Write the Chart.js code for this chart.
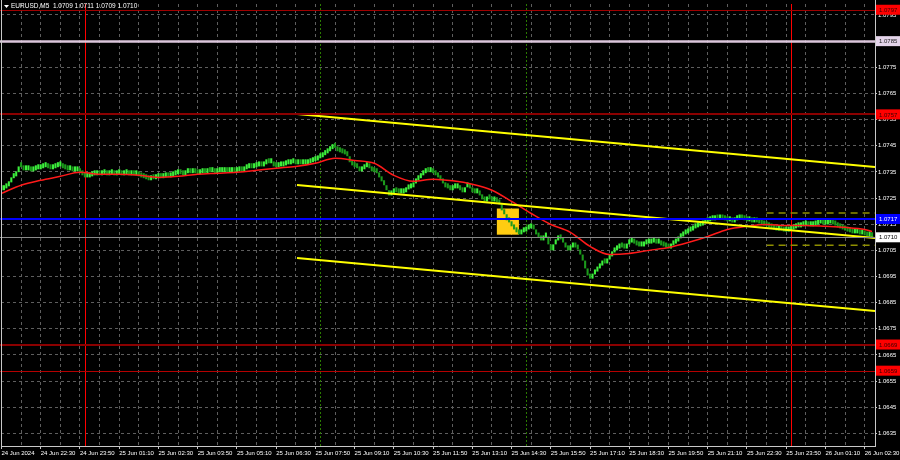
<!DOCTYPE html>
<html>
<head>
<meta charset="utf-8">
<title>EURUSD,M5</title>
<style>
  html, body { margin: 0; padding: 0; background: #000; }
  #wrap { position: relative; width: 900px; height: 460px; }
</style>
</head>
<body>
<div id="wrap"><canvas id="chart" width="900" height="460"></canvas></div>
<script src="https://cdn.jsdelivr.net/npm/chart.js@4.4.0/dist/chart.umd.min.js"></script>
<script>
// M5 closes, one per bar, from 24 Jun 21:10 to 26 Jun 02:45
const closes = [
  1.07280,1.07287,1.07295,1.07310,1.07326,1.07333,1.07349,1.07371,1.07368,1.07356,1.07356,1.07356,1.07352,1.07356,1.07360,1.07360,
  1.07364,1.07368,1.07368,1.07364,1.07360,1.07364,1.07368,1.07371,1.07371,1.07364,1.07360,1.07356,1.07356,1.07352,1.07352,1.07352,
  1.07345,1.07337,1.07329,1.07329,1.07333,1.07337,1.07337,1.07341,1.07337,1.07341,1.07341,1.07337,1.07341,1.07341,1.07337,1.07341,
  1.07341,1.07337,1.07341,1.07341,1.07337,1.07341,1.07337,1.07337,1.07333,1.07329,1.07326,1.07322,1.07318,1.07326,1.07322,1.07326,
  1.07329,1.07326,1.07329,1.07333,1.07329,1.07333,1.07337,1.07341,1.07349,1.07341,1.07337,1.07345,1.07352,1.07345,1.07349,1.07345,
  1.07341,1.07345,1.07349,1.07345,1.07352,1.07349,1.07356,1.07345,1.07349,1.07349,1.07349,1.07352,1.07349,1.07349,1.07352,1.07349,
  1.07352,1.07356,1.07352,1.07360,1.07364,1.07371,1.07364,1.07368,1.07371,1.07375,1.07371,1.07379,1.07387,1.07383,1.07383,1.07371,
  1.07368,1.07371,1.07371,1.07375,1.07379,1.07379,1.07383,1.07383,1.07379,1.07383,1.07379,1.07379,1.07379,1.07383,1.07387,1.07391,
  1.07394,1.07402,1.07406,1.07414,1.07421,1.07429,1.07437,1.07446,1.07442,1.07429,1.07425,1.07421,1.07417,1.07410,1.07387,1.07375,
  1.07368,1.07364,1.07352,1.07360,1.07368,1.07371,1.07364,1.07352,1.07349,1.07345,1.07329,1.07314,1.07299,1.07280,1.07260,1.07268,
  1.07280,1.07272,1.07268,1.07268,1.07272,1.07283,1.07287,1.07291,1.07306,1.07318,1.07326,1.07337,1.07345,1.07352,1.07349,1.07352,
  1.07345,1.07337,1.07329,1.07318,1.07306,1.07291,1.07287,1.07280,1.07287,1.07287,1.07291,1.07280,1.07272,1.07291,1.07295,1.07287,
  1.07272,1.07268,1.07268,1.07260,1.07245,1.07237,1.07249,1.07245,1.07237,1.07237,1.07234,1.07226,1.07203,1.07188,1.07165,1.07157,
  1.07142,1.07130,1.07119,1.07111,1.07119,1.07122,1.07130,1.07134,1.07138,1.07130,1.07111,1.07099,1.07088,1.07099,1.07103,1.07073,
  1.07050,1.07073,1.07088,1.07099,1.07092,1.07080,1.07061,1.07050,1.07061,1.07065,1.07061,1.07053,1.07034,1.07011,1.06981,1.06954,
  1.06942,1.06958,1.06969,1.06981,1.06992,1.07007,1.07000,1.07015,1.07027,1.07042,1.07050,1.07057,1.07065,1.07061,1.07057,1.07073,
  1.07080,1.07088,1.07076,1.07069,1.07065,1.07065,1.07073,1.07076,1.07076,1.07080,1.07080,1.07076,1.07076,1.07069,1.07065,1.07061,
  1.07057,1.07069,1.07076,1.07084,1.07096,1.07103,1.07111,1.07115,1.07122,1.07126,1.07134,1.07138,1.07142,1.07145,1.07153,1.07157,
  1.07161,1.07165,1.07165,1.07172,1.07168,1.07172,1.07168,1.07165,1.07161,1.07161,1.07157,1.07165,1.07168,1.07172,1.07168,1.07165,
  1.07161,1.07161,1.07157,1.07161,1.07157,1.07153,1.07149,1.07145,1.07142,1.07138,1.07134,1.07130,1.07126,1.07130,1.07126,1.07122,
  1.07122,1.07126,1.07130,1.07134,1.07138,1.07138,1.07142,1.07145,1.07145,1.07142,1.07142,1.07145,1.07149,1.07153,1.07153,1.07149,
  1.07149,1.07153,1.07153,1.07149,1.07145,1.07138,1.07134,1.07130,1.07126,1.07122,1.07119,1.07115,1.07115,1.07115,1.07111,1.07111,
  1.07107,1.07103,1.07103,1.07100
];

// red moving average, read every 8 bars
const maBars = [0,8,16,24,32,40,48,56,64,72,80,88,96,104,112,120,128,136,144,152,160,168,176,184,192,200,208,216,224,232,240,248,256,264,272,280,288,296,304,312,320,328,336,344,352,355];
const maValues = [
  1.07268,1.07299,1.07318,1.07333,1.07349,1.07341,1.07341,1.07337,1.07329,1.07333,1.07341,1.07345,1.07349,1.07356,1.07364,1.07371,
  1.07383,1.07402,1.07394,1.07383,1.07337,1.07314,1.07322,1.07316,1.07303,1.07280,1.07237,1.07191,1.07149,1.07119,1.07065,1.07034,
  1.07038,1.07050,1.07061,1.07080,1.07103,1.07130,1.07142,1.07149,1.07145,1.07145,1.07142,1.07138,1.07130,1.07122
];

const tickLabels = [
  '24 Jun 2024','24 Jun 22:30','24 Jun 23:50','25 Jun 01:10','25 Jun 02:30','25 Jun 03:50','25 Jun 05:10','25 Jun 06:30',
  '25 Jun 07:50','25 Jun 09:10','25 Jun 10:30','25 Jun 11:50','25 Jun 13:10','25 Jun 14:30','25 Jun 15:50','25 Jun 17:10',
  '25 Jun 18:30','25 Jun 19:50','25 Jun 21:10','25 Jun 22:30','25 Jun 23:50','26 Jun 01:10','26 Jun 02:30'
];

// price channel (two anchor bars)
const channelBars = [120.5, 356.2];
const channelUpper = [1.07571, 1.07369];
const channelMiddle = [1.07300, 1.07097];
const channelLower = [1.07021, 1.06818];

// dashed target lines
const targetBars = [312, 356.2];
const targetPrices = [1.07193, 1.07070];

// horizontal levels
const levelPrices = [1.0797, 1.0785, 1.0757, 1.0717, 1.0710, 1.0669, 1.0659];
const levelLine = ['#a00000', '#dcc6dc', '#8b0000', '#0000ff', '#8a8a8a', '#8b0000', '#b40000'];
const levelWidth = [1, 2.5, 2, 2, 1, 2, 1];
const levelBox = ['#ff0000', '#e4d4ea', '#ff0000', '#0000ff', '#ffffff', '#ff0000', '#ff0000'];
const levelText = ['#3a0000', '#202020', '#3a0000', '#ffffff', '#000000', '#3a0000', '#3a0000'];

const dayBars = [34, 322];        // 25 Jun 00:00, 26 Jun 00:00
const sessionBars = [130, 214];   // 08:00, 15:00
const zoneBars = [202, 211];
const zonePrices = [1.0721, 1.0711];

const FONT = 'Liberation Sans';

const candles = closes.map((c, i) => ({ x: i, y: [i ? closes[i - 1] : c, c] }));

function hline(ctx, x0, x1, y) { ctx.beginPath(); ctx.moveTo(x0, y); ctx.lineTo(x1, y); ctx.stroke(); }
function vline(ctx, x, y0, y1) { ctx.beginPath(); ctx.moveTo(x, y0); ctx.lineTo(x, y1); ctx.stroke(); }

const overlay = {
  id: 'overlay',
  beforeDatasetsDraw(chart) {
    const { ctx, chartArea: a, scales: { x, y } } = chart;
    ctx.save();
    ctx.beginPath();
    ctx.rect(a.left, a.top, a.right - a.left, a.bottom - a.top);
    ctx.clip();

    const zx0 = x.getPixelForValue(zoneBars[0]), zx1 = x.getPixelForValue(zoneBars[1]);
    const zy0 = y.getPixelForValue(zonePrices[0]), zy1 = y.getPixelForValue(zonePrices[1]);
    ctx.fillStyle = '#ffcc11';
    ctx.fillRect(zx0, zy0, zx1 - zx0, zy1 - zy0);

    ctx.lineWidth = 1;
    ctx.strokeStyle = '#2a7a00';
    ctx.setLineDash([2, 2]);
    sessionBars.forEach(b => vline(ctx, Math.round(x.getPixelForValue(b)) + 0.5, a.top, a.bottom));
    ctx.setLineDash([]);
    ctx.strokeStyle = '#ff0000';
    dayBars.forEach(b => vline(ctx, Math.round(x.getPixelForValue(b)) + 0.5, a.top, a.bottom));
    ctx.restore();
  },
  afterDatasetsDraw(chart) {
    const { ctx, chartArea: a, scales: { y } } = chart;
    ctx.save();
    levelPrices.forEach((p, i) => {
      ctx.strokeStyle = levelLine[i];
      ctx.lineWidth = levelWidth[i];
      const py = Math.round(y.getPixelForValue(p)) + (levelWidth[i] % 2 ? 0.5 : 0);
      hline(ctx, 0, a.right, py);
    });
    ctx.restore();
  },
  afterDraw(chart) {
    const { ctx, chartArea: a, scales: { y } } = chart;
    ctx.save();
    // frame
    ctx.strokeStyle = '#c8c8c8';
    ctx.lineWidth = 1;
    vline(ctx, a.left + 0.5, 0, a.bottom);
    hline(ctx, a.left, a.right + 1, a.bottom + 0.5);
    vline(ctx, a.right + 0.5, 0, a.bottom);

    // price boxes on the axis
    ctx.font = '6px "' + FONT + '"';
    ctx.textBaseline = 'middle';
    levelPrices.forEach((p, i) => {
      const py = y.getPixelForValue(p);
      ctx.fillStyle = levelBox[i];
      ctx.fillRect(a.right + 1, py - 5, 900 - a.right - 1, 10);
      ctx.fillStyle = levelText[i];
      ctx.fillText(p.toFixed(4), a.right + 4, py + 0.5);
    });

    // symbol header
    ctx.fillStyle = '#ffffff';
    ctx.beginPath();
    ctx.moveTo(4, 5); ctx.lineTo(9, 5); ctx.lineTo(6.5, 8); ctx.closePath();
    ctx.fill();
    ctx.font = '6.5px "' + FONT + '"';
    ctx.fillText('EURUSD,M5  1.0709 1.0711 1.0709 1.0710', 11, 6.5);
    ctx.restore();
  }
};

new Chart(document.getElementById('chart'), {
  type: 'bar',
  data: {
    datasets: [
      {
        type: 'line', data: maBars.map((b, i) => ({ x: b, y: maValues[i] })),
        borderColor: '#ff1a1a', borderWidth: 1.5, pointRadius: 0, cubicInterpolationMode: 'monotone', order: 1
      },
      {
        type: 'line', data: channelBars.map((b, i) => ({ x: b, y: channelUpper[i] })),
        borderColor: '#ffff00', borderWidth: 2, pointRadius: 0, order: 0
      },
      {
        type: 'line', data: channelBars.map((b, i) => ({ x: b, y: channelMiddle[i] })),
        borderColor: '#ffff00', borderWidth: 2, pointRadius: 0, order: 0
      },
      {
        type: 'line', data: channelBars.map((b, i) => ({ x: b, y: channelLower[i] })),
        borderColor: '#ffff00', borderWidth: 2, pointRadius: 0, order: 0
      },
      {
        type: 'line', data: targetBars.map(b => ({ x: b, y: targetPrices[0] })),
        borderColor: '#8f8f00', borderWidth: 1.5, borderDash: [7, 5], pointRadius: 0, order: 0
      },
      {
        type: 'line', data: targetBars.map(b => ({ x: b, y: targetPrices[1] })),
        borderColor: '#8f8f00', borderWidth: 1.5, borderDash: [7, 5], pointRadius: 0, order: 0
      },
      {
        type: 'bar', data: candles,
        backgroundColor: c => {
          const r = candles[c.dataIndex];
          return r && r.y[1] >= r.y[0] ? '#3cf03c' : '#1c9a1c';
        },
        borderWidth: 0, barPercentage: 0.85, categoryPercentage: 1, minBarLength: 5, order: 2
      }
    ]
  },
  options: {
    responsive: false,
    animation: false,
    devicePixelRatio: 1,
    layout: { padding: { left: 1, top: 4, right: 0, bottom: 0 } },
    plugins: { legend: { display: false }, tooltip: { enabled: false } },
    scales: {
      x: {
        type: 'linear', position: 'bottom', min: -0.2, max: 356.2, offset: false,
        afterBuildTicks: s => { s.ticks = []; for (let b = 0; b <= 352; b += 8) s.ticks.push({ value: b }); },
        afterFit: s => { s.height = 14; s.paddingLeft = 0; s.paddingRight = 0; },
        ticks: {
          autoSkip: false, maxRotation: 0, align: 'start', padding: 1, color: '#ffffff',
          font: { family: FONT, size: 6 },
          callback: v => (v % 16 === 0 ? tickLabels[v / 16] : '')
        },
        grid: {
          offset: false, color: '#5e5e5e', lineWidth: 1, drawTicks: true, tickLength: 3,
          tickColor: c => (c.tick && c.tick.value % 16 === 0 ? '#c8c8c8' : 'rgba(0,0,0,0)'),
          tickBorderDash: []
        },
        border: { display: false, dash: [3, 3] }
      },
      y: {
        type: 'linear', position: 'right', min: 1.06302, max: 1.07992,
        afterBuildTicks: s => { s.ticks = []; for (let k = 0; k <= 16; k++) s.ticks.push({ value: +(1.0635 + k * 0.001).toFixed(4) }); },
        afterFit: s => { s.width = 25; s.paddingTop = 0; s.paddingBottom = 0; },
        ticks: {
          color: '#ffffff', padding: 1, font: { family: FONT, size: 6 },
          callback: v => v.toFixed(4)
        },
        grid: { color: '#5e5e5e', lineWidth: 1, tickLength: 2, tickColor: '#c8c8c8', tickBorderDash: [] },
        border: { display: false, dash: [3, 3] }
      }
    }
  },
  plugins: [overlay]
});
</script>
</body>
</html>
